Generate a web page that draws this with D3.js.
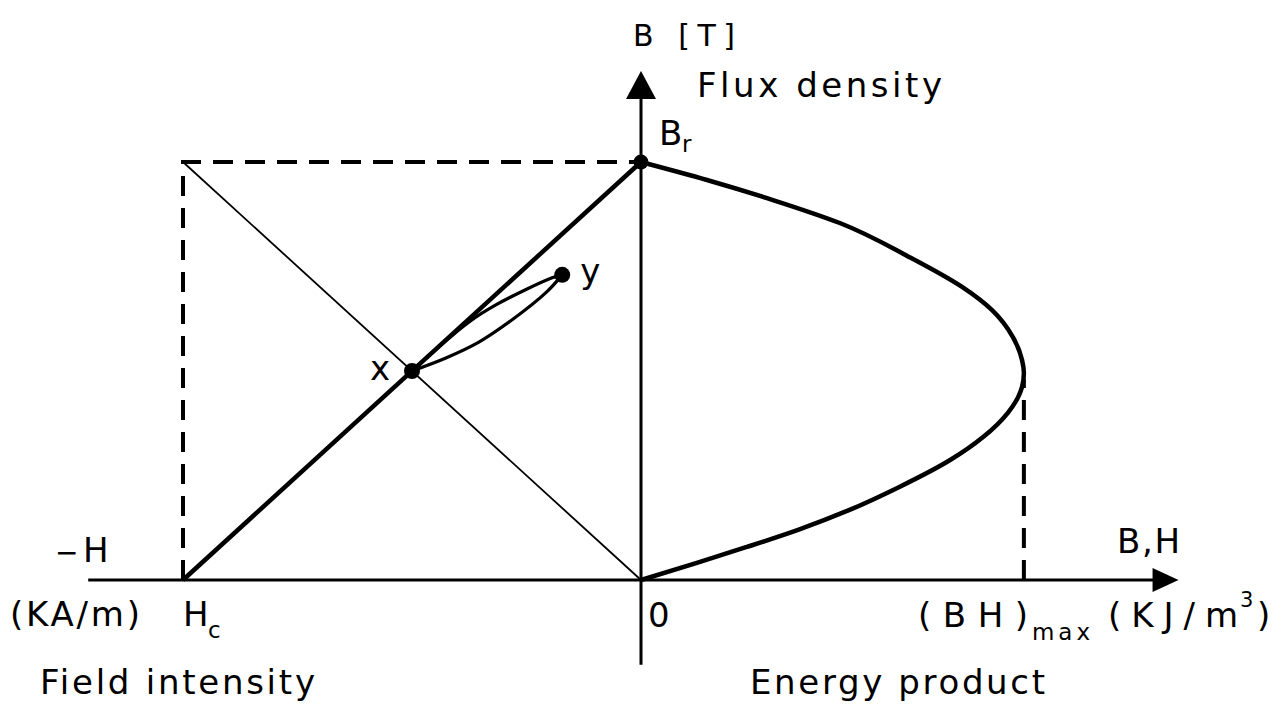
<!DOCTYPE html>
<html>
<head>
<meta charset="utf-8">
<script src="https://cdn.jsdelivr.net/npm/d3@7"></script>
<style>
  html, body { margin: 0; padding: 0; background: #fff; }
  svg { display: block; }
  text { font-family: "DejaVu Sans", "Liberation Sans", sans-serif; fill: #000; }
</style>
</head>
<body>
<svg id="chart" width="1285" height="706"></svg>
<script>
// Field intensity H in units of Hc (negative side), flux density B in units of Br.
// Demagnetization line from Hc to Br
const demagH = [-1, 0];
const demagB = [0, 1];

// Thin diagonal (load line) from the corner (-Hc, Br) to the origin
const loadH = [-1, 0];
const loadB = [1, 0];

// Energy product curve: BH (same horizontal units) against B
const energyBH = [0, 0.144, 0.288, 0.434, 0.585, 0.701, 0.766, 0.812, 0.832, 0.836, 0.832, 0.801, 0.747, 0.675, 0.563, 0.454, 0.343, 0.231, 0.122, 0];
const energyB  = [1.0, 0.957, 0.909, 0.854, 0.773, 0.701, 0.646, 0.581, 0.526, 0.495, 0.462, 0.400, 0.342, 0.287, 0.222, 0.167, 0.120, 0.079, 0.041, 0];

// Working point x and recoil point y
const pointX = { h: -0.5, b: 0.5 };
const pointY = { h: -0.172, b: 0.730 };

// Recoil loop between x and y
const recoilUpperH = [-0.5, -0.441, -0.376, -0.317, -0.251, -0.194, -0.172];
const recoilUpperB = [0.5, 0.558, 0.617, 0.658, 0.695, 0.723, 0.730];
const recoilLowerH = [-0.5, -0.426, -0.354, -0.282, -0.207, -0.172];
const recoilLowerB = [0.5, 0.531, 0.569, 0.622, 0.688, 0.730];

// (BH)max marker
const bhMax = { bh: 0.836, b: 0.48 };

// Axis extents
const hAxisRange = [-1.207, 1.13];
const bAxisRange = [-0.203, 1.16];

const svg = d3.select("#chart");
const x = d3.scaleLinear().domain([-1, 0]).range([183, 641]);
const y = d3.scaleLinear().domain([0, 1]).range([580, 162]);

const line = d3.line().x(d => x(d[0])).y(d => y(d[1]));
const smooth = d3.line().x(d => x(d[0])).y(d => y(d[1])).curve(d3.curveCatmullRom.alpha(0.5));

// Axes
svg.append("line")
  .attr("x1", x(hAxisRange[0])).attr("y1", y(0))
  .attr("x2", x(hAxisRange[1])).attr("y2", y(0))
  .attr("stroke", "#000").attr("stroke-width", 3);
svg.append("line")
  .attr("x1", x(0)).attr("y1", y(bAxisRange[0]))
  .attr("x2", x(0)).attr("y2", y(bAxisRange[1]))
  .attr("stroke", "#000").attr("stroke-width", 3);

// Arrowheads
const hx = x(hAxisRange[1]);
svg.append("path")
  .attr("d", `M${hx - 6},${y(0) - 12} L${hx + 20},${y(0)} L${hx - 6},${y(0) + 12} Z`)
  .attr("fill", "#000");
const by = y(bAxisRange[1]);
svg.append("path")
  .attr("d", `M${x(0) - 15},${by + 4} L${x(0)},${by - 24} L${x(0) + 15},${by + 4} Z`)
  .attr("fill", "#000");

// Dashed construction lines
const xe = bh => x(0) + (x(bh) - x(0));
svg.append("path")
  .attr("d", line([[loadH[0], 0], [loadH[0], loadB[0]], [0, demagB[1]]]))
  .attr("fill", "none").attr("stroke", "#000").attr("stroke-width", 4)
  .attr("stroke-dasharray", "20,12");
svg.append("path")
  .attr("d", `M${xe(bhMax.bh)},${y(0)} L${xe(bhMax.bh)},${y(bhMax.b)}`)
  .attr("fill", "none").attr("stroke", "#000").attr("stroke-width", 4)
  .attr("stroke-dasharray", "20,12");

// Thin load line
svg.append("path")
  .attr("d", line(d3.zip(loadH, loadB)))
  .attr("fill", "none").attr("stroke", "#000").attr("stroke-width", 1.8);

// Demagnetization line
svg.append("path")
  .attr("d", line(d3.zip(demagH, demagB)))
  .attr("fill", "none").attr("stroke", "#000").attr("stroke-width", 4.5);

// Energy product curve (BH measured along the positive horizontal); B decreases monotonically
svg.append("path")
  .attr("d", d3.line().x(d => xe(d[0])).y(d => y(d[1])).curve(d3.curveMonotoneY)(d3.zip(energyBH, energyB)))
  .attr("fill", "none").attr("stroke", "#000").attr("stroke-width", 4.5);

// Recoil loop
svg.append("path")
  .attr("d", smooth(d3.zip(recoilUpperH, recoilUpperB)))
  .attr("fill", "none").attr("stroke", "#000").attr("stroke-width", 3.2);
svg.append("path")
  .attr("d", smooth(d3.zip(recoilLowerH, recoilLowerB)))
  .attr("fill", "none").attr("stroke", "#000").attr("stroke-width", 3.2);

// Points
[[pointX.h, pointX.b, 8], [pointY.h, pointY.b, 8], [0, 1, 7.5]].forEach(p => {
  svg.append("circle").attr("cx", x(p[0])).attr("cy", y(p[1])).attr("r", p[2]).attr("fill", "#000");
});

// Labels
function label(txt, px, py, size, len) {
  const t = svg.append("text").attr("x", px).attr("y", py).attr("font-size", size).text(txt);
  if (len) t.attr("textLength", len).attr("lengthAdjust", "spacing");
  return t;
}
label("B [T]", x(0) - 8, 46, 30, 102);
label("Flux density", x(0) + 56, 97, 34, 245);
label("B", x(0) + 18, 145, 34);
label("r", x(0) + 41, 152, 23);
label("y", x(pointY.h) + 18, 283, 34);
label("x", x(pointX.h) - 42, 380, 34);
label("\u2212", 55, 562, 28);
label("H", 83, 562, 34);
label("(KA/m)", 10, 626, 34, 130);
label("H", x(-1), 626, 34);
label("c", x(-1) + 25, 638, 23);
label("Field intensity", 40, 694, 34, 275);
label("0", x(0) + 7, 627, 34);
label("(BH)", 918, 627, 34, 110);
label("max", 1032, 640, 23, 58);
label("(KJ/m", 1108, 627, 34, 130);
label("3", 1240, 607, 21);
label(")", 1257, 627, 34);
label("B,H", 1117, 553, 34, 63);
label("Energy product", 750, 694, 34, 295);
</script>
</body>
</html>
